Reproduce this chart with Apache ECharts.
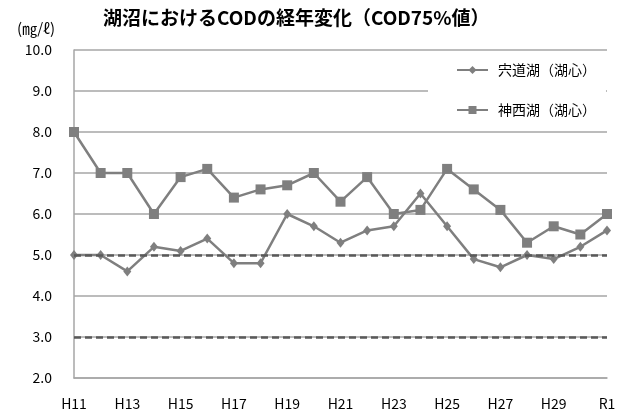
<!DOCTYPE html>
<html>
<head>
<meta charset="utf-8">
<script src="https://cdn.jsdelivr.net/npm/echarts@6/dist/echarts.min.js"></script>
<style>
  html, body { margin: 0; padding: 0; background: #fff; }
  #chart { width: 624px; height: 412px; }
</style>
</head>
<body>
<div id="chart"></div>
<script>
// 年度
var years = ['H11', 'H12', 'H13', 'H14', 'H15', 'H16', 'H17', 'H18', 'H19', 'H20',
  'H21', 'H22', 'H23', 'H24', 'H25', 'H26', 'H27', 'H28', 'H29', 'H30', 'R1']
// COD75%値
var shinjiko = [5.0, 5.0, 4.6, 5.2, 5.1, 5.4, 4.8, 4.8, 6.0, 5.7,
  5.3, 5.6, 5.7, 6.5, 5.7, 4.9, 4.7, 5.0, 4.9, 5.2, 5.6]
var jinzaiko = [8.0, 7.0, 7.0, 6.0, 6.9, 7.1, 6.4, 6.6, 6.7, 7.0,
  6.3, 6.9, 6.0, 6.1, 7.1, 6.6, 6.1, 5.3, 5.7, 5.5, 6.0]
// 環境基準（破線）
var standards = [5.0, 3.0]
var seriesNames = ['宍道湖（湖心）', '神西湖（湖心）']

var font = 'Noto Sans CJK JP'
var lineColor = '#7f7f7f'

var myChart = echarts.init(document.getElementById('chart'))

var option = {
  animation: false,
  textStyle: { fontFamily: font },
  title: {
    text: '湖沼におけるCODの経年変化（COD75%値）',
    left: 98,
    top: 3,
    textStyle: {
      fontFamily: font,
      fontSize: 19,
      fontWeight: 'bold',
      color: '#000'
    }
  },
  grid: {
    left: 74,
    right: 17,
    top: 50,
    bottom: 34
  },
  legend: {
    orient: 'vertical',
    left: 428,
    top: 55,
    padding: [8, 10, 8, 28],
    itemGap: 26,
    itemWidth: 31,
    itemHeight: 10,
    backgroundColor: '#fff',
    data: seriesNames,
    textStyle: {
      fontFamily: font,
      fontSize: 14,
      color: '#000',
      padding: [0, 0, 0, 5]
    }
  },
  xAxis: {
    type: 'category',
    data: years,
    boundaryGap: false,
    axisLine: { lineStyle: { color: '#a6a6a6', width: 1.5 } },
    axisTick: { show: false },
    axisLabel: {
      interval: 1,
      margin: 19,
      fontSize: 14,
      color: '#000',
      fontFamily: font
    },
    splitLine: { show: false }
  },
  yAxis: {
    type: 'value',
    min: 2,
    max: 10,
    interval: 1,
    name: '(㎎/ℓ)',
    nameLocation: 'end',
    nameGap: 22,
    nameTextStyle: {
      align: 'right',
      verticalAlign: 'middle',
      padding: [0, 19, 0, 0],
      fontSize: 15,
      color: '#000',
      fontFamily: font
    },
    axisLine: { show: true, lineStyle: { color: '#a6a6a6', width: 1.5 } },
    axisTick: { show: false },
    axisLabel: {
      margin: 22,
      fontSize: 14,
      color: '#000',
      fontFamily: font,
      formatter: function (v) { return v.toFixed(1) }
    },
    splitLine: { lineStyle: { color: '#a6a6a6', width: 1.5 } }
  },
  series: [
    {
      name: seriesNames[0],
      type: 'line',
      data: shinjiko,
      symbol: 'diamond',
      symbolSize: [8, 10],
      itemStyle: { color: lineColor },
      lineStyle: { color: lineColor, width: 2.5 },
      z: 3,
      markLine: {
        silent: true,
        symbol: 'none',
        label: { show: false },
        lineStyle: { color: '#595959', width: 2.5, type: [7, 4] },
        data: standards.map(function (v) { return { yAxis: v } })
      }
    },
    {
      name: seriesNames[1],
      type: 'line',
      data: jinzaiko,
      symbol: 'rect',
      symbolSize: 10,
      itemStyle: { color: lineColor },
      lineStyle: { color: lineColor, width: 2.5 },
      z: 3
    }
  ]
}

myChart.setOption(option)
</script>
</body>
</html>
